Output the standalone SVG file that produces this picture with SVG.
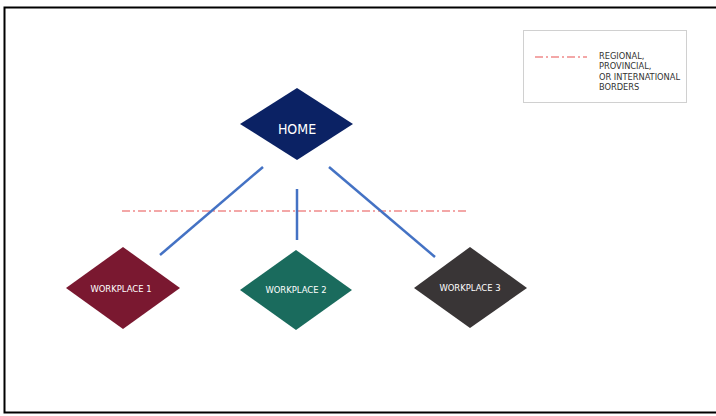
<svg xmlns="http://www.w3.org/2000/svg" width="716" height="416" viewBox="0 0 716 416">
<style>
.node text{font-family:"DejaVu Sans Condensed","DejaVu Sans",sans-serif;fill:#ffffff;text-anchor:middle}
.lbl{font-size:9.4px}
.conn line{stroke:#4472C4;stroke-width:2.5;stroke-linecap:butt}
.border{stroke:#F08A8A;stroke-width:1.3;stroke-dasharray:8 3 2 3;fill:none}
.legend text{font-family:"DejaVu Sans Condensed","DejaVu Sans",sans-serif;font-size:9.2px;fill:#333333}
</style>
<rect x="0" y="0" width="716" height="416" fill="#ffffff"/>
<rect x="4.5" y="7.5" width="714" height="405" fill="none" stroke="#000000" stroke-width="2"/>
<g id="legend" class="legend">
<rect x="523.5" y="30.5" width="163" height="72" fill="#ffffff" stroke="#d0d0d0" stroke-width="1"/>
<line class="border" x1="535" y1="57" x2="587" y2="57"/>
<text x="599" y="58.5">REGIONAL,</text>
<text x="599" y="69">PROVINCIAL,</text>
<text x="599" y="79.5">OR INTERNATIONAL</text>
<text x="599" y="90">BORDERS</text>
</g>
<g id="border-line">
<line class="border" x1="122" y1="211" x2="468" y2="211"/>
</g>
<g id="connectors" class="conn">
<line x1="263" y1="167" x2="160" y2="255"/>
<line x1="297" y1="189" x2="297" y2="240"/>
<line x1="329" y1="167" x2="435" y2="257"/>
</g>
<g id="home" class="node">
<polygon points="297,88 353,124 297,160 240,124" fill="#0B2264"/>
<text x="297" y="134" style="font-size:14px">HOME</text>
</g>
<g id="workplace1" class="node">
<polygon points="123,247 180,288 123,329 66,288" fill="#7A1830"/>
<text x="121" y="291.5" class="lbl">WORKPLACE 1</text>
</g>
<g id="workplace2" class="node">
<polygon points="296,250 352,290 296,330 240,290" fill="#1A6B5D"/>
<text x="296" y="293" class="lbl">WORKPLACE 2</text>
</g>
<g id="workplace3" class="node">
<polygon points="470,247 527,288 470,328 414,288" fill="#393536"/>
<text x="470" y="291" class="lbl">WORKPLACE 3</text>
</g>
</svg>
